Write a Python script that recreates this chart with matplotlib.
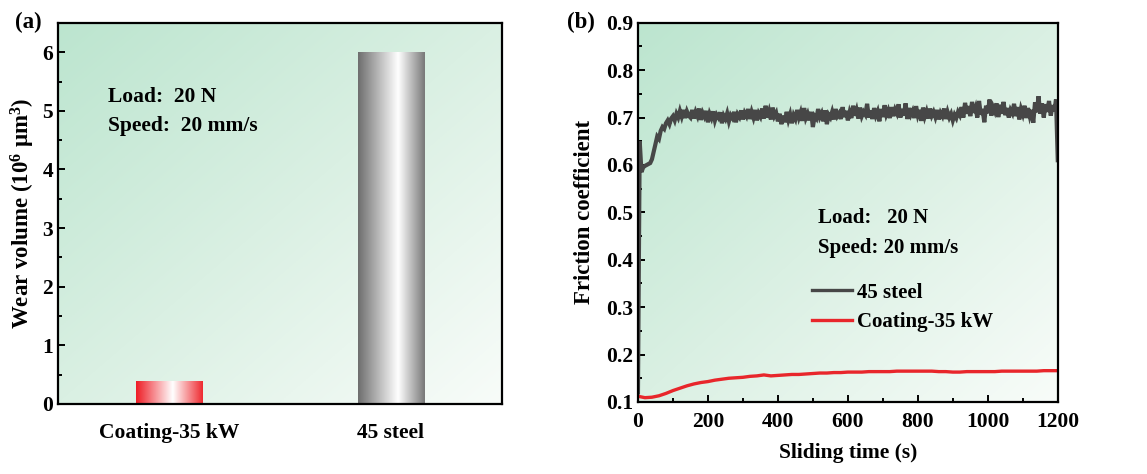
import numpy as np
import matplotlib
matplotlib.use("Agg")
import matplotlib.pyplot as plt
from matplotlib.ticker import MultipleLocator
from matplotlib.colors import LinearSegmentedColormap

plt.rcParams['font.family'] = ['Liberation Serif', 'DejaVu Serif']
plt.rcParams['font.weight'] = 'bold'
plt.rcParams['mathtext.fontset'] = 'custom'
plt.rcParams['mathtext.rm'] = 'Liberation Serif:bold'
plt.rcParams['mathtext.it'] = 'Liberation Serif:bold'
plt.rcParams['mathtext.bf'] = 'Liberation Serif:bold'
plt.rcParams['mathtext.default'] = 'rm'

# ---------------- data ----------------
bar_categories = ["Coating-35 kW", "45 steel"]
wear_volume = [0.40, 6.0]  # 10^6 um^3

sample_step_s = 5
steel_mu = [
    0.120, 0.650, 0.585, 0.595, 0.598, 0.600, 0.602, 0.604, 0.612, 0.628,
    0.645, 0.660, 0.655, 0.672, 0.680, 0.676, 0.688, 0.694, 0.686, 0.698,
    0.703, 0.694, 0.708, 0.700, 0.714, 0.702, 0.716, 0.699, 0.713, 0.704,
    0.700, 0.716, 0.698, 0.712, 0.703, 0.719, 0.695, 0.710, 0.702, 0.714,
    0.690, 0.708, 0.699, 0.713, 0.694, 0.706, 0.700, 0.711, 0.688, 0.704,
    0.697, 0.709, 0.692, 0.705, 0.699, 0.712, 0.690, 0.707, 0.701, 0.715,
    0.696, 0.710, 0.703, 0.718, 0.697, 0.712, 0.700, 0.716, 0.694, 0.709,
    0.702, 0.719, 0.698, 0.725, 0.700, 0.713, 0.696, 0.721, 0.703, 0.710,
    0.692, 0.708, 0.686, 0.704, 0.690, 0.712, 0.695, 0.707, 0.688, 0.705,
    0.697, 0.716, 0.700, 0.711, 0.693, 0.720, 0.699, 0.708, 0.694, 0.712,
    0.680, 0.703, 0.698, 0.718, 0.701, 0.709, 0.692, 0.715, 0.686, 0.706,
    0.700, 0.712, 0.696, 0.718, 0.703, 0.709, 0.697, 0.722, 0.701, 0.714,
    0.694, 0.711, 0.699, 0.725, 0.704, 0.716, 0.698, 0.721, 0.703, 0.712,
    0.706, 0.729, 0.700, 0.715, 0.697, 0.720, 0.704, 0.713, 0.692, 0.718,
    0.701, 0.726, 0.706, 0.715, 0.699, 0.722, 0.703, 0.717, 0.709, 0.728,
    0.700, 0.718, 0.704, 0.730, 0.697, 0.720, 0.706, 0.714, 0.699, 0.724,
    0.705, 0.716, 0.693, 0.721, 0.702, 0.713, 0.698, 0.719, 0.704, 0.712,
    0.701, 0.716, 0.696, 0.710, 0.703, 0.719, 0.697, 0.712, 0.700, 0.708,
    0.694, 0.706, 0.699, 0.712, 0.705, 0.722, 0.700, 0.731, 0.708, 0.724,
    0.703, 0.733, 0.710, 0.721, 0.700, 0.735, 0.706, 0.718, 0.690, 0.725,
    0.709, 0.738, 0.704, 0.722, 0.713, 0.730, 0.701, 0.727, 0.708, 0.733,
    0.705, 0.720, 0.700, 0.716, 0.709, 0.729, 0.703, 0.722, 0.696, 0.718,
    0.707, 0.725, 0.699, 0.720, 0.703, 0.716, 0.689, 0.732, 0.711, 0.745,
    0.708, 0.730, 0.700, 0.728, 0.712, 0.735, 0.704, 0.726, 0.713, 0.738,
    0.610,
]
coating_step_s = 20
coating_mu = [
    0.112, 0.109, 0.110, 0.113, 0.118, 0.124, 0.129, 0.134, 0.138, 0.141,
    0.143, 0.146, 0.148, 0.150, 0.151, 0.152, 0.154, 0.155, 0.157, 0.155,
    0.156, 0.157, 0.158, 0.158, 0.159, 0.160, 0.161, 0.161, 0.162, 0.162,
    0.163, 0.163, 0.163, 0.164, 0.164, 0.164, 0.164, 0.165, 0.165, 0.165,
    0.165, 0.165, 0.165, 0.164, 0.164, 0.163, 0.163, 0.164, 0.164, 0.164,
    0.164, 0.164, 0.165, 0.165, 0.165, 0.165, 0.165, 0.165, 0.166, 0.166,
    0.166,
]

steel_t = np.arange(len(steel_mu)) * sample_step_s
coating_t = np.arange(len(coating_mu)) * coating_step_s

# ---------------- style helpers ----------------
bg_cmap = LinearSegmentedColormap.from_list(
    "bg", ["#bce5cf", "#daf0e3", "#f8fcf9"])
red_cmap = LinearSegmentedColormap.from_list(
    "redbar", [(0.0, "#ee1c25"), (0.55, "#ffffff"), (1.0, "#ee2a30")])
grey_cmap = LinearSegmentedColormap.from_list(
    "greybar", [(0.0, "#6e6e6e"), (0.6, "#ffffff"), (1.0, "#787878")])


def gradient_bg(ax):
    n = 200
    xx, yy = np.meshgrid(np.linspace(0, 1, n), np.linspace(0, 1, n))
    g = (xx + yy) / 2.0
    ax.imshow(g, cmap=bg_cmap, extent=[0, 1, 0, 1], transform=ax.transAxes,
              aspect='auto', origin='upper', zorder=0, interpolation='bilinear')


def style_axes(ax):
    for s in ax.spines.values():
        s.set_linewidth(1.6)
        s.set_color('black')
        s.set_zorder(5)
    ax.tick_params(which='both', direction='in', top=False, right=False,
                   labelsize=15.5, width=1.4)
    ax.tick_params(which='major', length=5)
    ax.tick_params(which='minor', length=3)
    for lab in ax.get_xticklabels() + ax.get_yticklabels():
        lab.set_fontweight('bold')


fig = plt.figure(figsize=(11.47, 4.74), dpi=100)

# ---------------- panel (a) ----------------
ax1 = fig.add_axes([0.0506, 0.1477, 0.387, 0.804])
gradient_bg(ax1)
xpos = np.arange(len(bar_categories))
bars = ax1.bar(xpos, wear_volume, width=0.3, color='none', edgecolor='none', zorder=2)
grad_row = np.linspace(0, 1, 256).reshape(1, -1)
for b, cm in zip(bars, [red_cmap, grey_cmap]):
    x0, y0 = b.get_x(), b.get_y()
    im = ax1.imshow(grad_row, cmap=cm, aspect='auto', origin='lower',
                    extent=[x0, x0 + b.get_width(), y0, y0 + b.get_height()],
                    zorder=2, interpolation='bilinear')
    im.set_clip_path(b)
ax1.set_xlim(-0.5, 1.5)
ax1.set_ylim(0, 6.5)
ax1.set_xticks(xpos)
ax1.set_xticklabels(bar_categories)
ax1.yaxis.set_major_locator(MultipleLocator(1))
ax1.yaxis.set_minor_locator(MultipleLocator(0.5))
style_axes(ax1)
ax1.tick_params(axis='x', which='both', length=0, pad=14)
ax1.set_ylabel(r'Wear volume (10$^{6}$ μm$^{3}$)', fontsize=16.5, fontweight='bold', labelpad=4)
ax1.text(0.113, 0.806, "Load:  20 N", transform=ax1.transAxes, fontsize=15.5,
         fontweight='bold', va='center', ha='left')
ax1.text(0.113, 0.730, "Speed:  20 mm/s", transform=ax1.transAxes, fontsize=15.5,
         fontweight='bold', va='center', ha='left')

# ---------------- panel (b) ----------------
ax2 = fig.add_axes([0.5562, 0.152, 0.366, 0.80])
gradient_bg(ax2)
ax2.plot(steel_t, steel_mu, color='#474747', lw=3.0, label='45 steel', zorder=3,
         solid_joinstyle='miter')
ax2.plot(coating_t, coating_mu, color='#e8262b', lw=2.4, label='Coating-35 kW', zorder=3)
ax2.set_xlim(0, 1200)
ax2.set_ylim(0.1, 0.9)
ax2.xaxis.set_major_locator(MultipleLocator(200))
ax2.xaxis.set_minor_locator(MultipleLocator(100))
ax2.yaxis.set_major_locator(MultipleLocator(0.1))
ax2.yaxis.set_minor_locator(MultipleLocator(0.05))
ax2.yaxis.set_major_formatter(matplotlib.ticker.FormatStrFormatter('%.1f'))
style_axes(ax2)
ax2.tick_params(axis='x', pad=7)
ax2.set_xlabel('Sliding time (s)', fontsize=15.5, fontweight='bold', labelpad=8)
ax2.set_ylabel('Friction coefficient', fontsize=16.5, fontweight='bold', labelpad=8)
ax2.text(0.4286, 0.485, "Load:   20 N", transform=ax2.transAxes, fontsize=15,
         fontweight='bold', va='center', ha='left')
ax2.text(0.4286, 0.406, "Speed: 20 mm/s", transform=ax2.transAxes, fontsize=15,
         fontweight='bold', va='center', ha='left')
leg = ax2.legend(loc='upper left', bbox_to_anchor=(0.415, 0.315), frameon=False,
                 handlelength=1.9, handletextpad=0.25,
                 borderaxespad=0, borderpad=0, labelspacing=0.45,
                 prop={'weight': 'bold', 'size': 15})
for line in leg.get_lines():
    line.set_linewidth(2.4)

# panel labels
fig.text(0.013, 0.952, "(a)", fontsize=16.5, fontweight='bold', va='center', ha='left')
fig.text(0.494, 0.952, "(b)", fontsize=16.5, fontweight='bold', va='center', ha='left')

fig.savefig("out.png", dpi=100)
